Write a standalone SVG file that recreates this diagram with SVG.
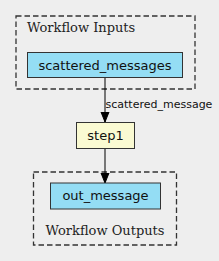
<svg xmlns="http://www.w3.org/2000/svg" width="219" height="261" viewBox="0 0 219 261">
<style>
.cluster{fill:none;stroke:#333;stroke-width:1.3;stroke-dasharray:5.5,3}
.ctitle{font-family:"DejaVu Serif",serif;font-size:13px;fill:#222}
.io{fill:#94ddf4;stroke:#333;stroke-width:1}
.step{fill:#fafad2;stroke:#333;stroke-width:1}
.ntext{font-family:"DejaVu Sans",sans-serif;font-size:13px;fill:#111;text-anchor:middle}
.edge{stroke:#000;stroke-width:1;fill:none}
.elabel{font-family:"DejaVu Sans",sans-serif;font-size:11px;fill:#111}
</style>
<defs>
<marker id="arrow" markerWidth="10" markerHeight="10" refX="10" refY="5" orient="auto" markerUnits="userSpaceOnUse">
<path d="M0,1 L10,5 L0,9 Z" fill="#000" stroke="#000" stroke-width="1"/>
</marker>
</defs>
<rect width="219" height="261" fill="#eeeeee"/>
<g id="cluster_inputs">
<rect class="cluster" x="16" y="16" width="179" height="73"/>
<text class="ctitle" x="27" y="32">Workflow Inputs</text>
</g>
<g id="cluster_outputs">
<rect class="cluster" x="33.5" y="172" width="143" height="73"/>
<text class="ctitle" x="105" y="235" text-anchor="middle">Workflow Outputs</text>
</g>
<g id="connectors">
<line class="edge" x1="105" y1="78" x2="105" y2="122" marker-end="url(#arrow)"/>
<text class="elabel" x="105.5" y="108">scattered_message</text>
<line class="edge" x1="105" y1="149" x2="105" y2="183" marker-end="url(#arrow)"/>
</g>
<g id="scattered_messages">
<rect class="io" x="27.5" y="52.5" width="155" height="25"/>
<text class="ntext" x="105" y="69.5">scattered_messages</text>
</g>
<g id="step1">
<rect class="step" x="76.5" y="122.5" width="58" height="26"/>
<text class="ntext" x="105.5" y="140">step1</text>
</g>
<g id="out_message">
<rect class="io" x="50.5" y="183" width="110" height="26"/>
<text class="ntext" x="105.5" y="200">out_message</text>
</g>
</svg>
